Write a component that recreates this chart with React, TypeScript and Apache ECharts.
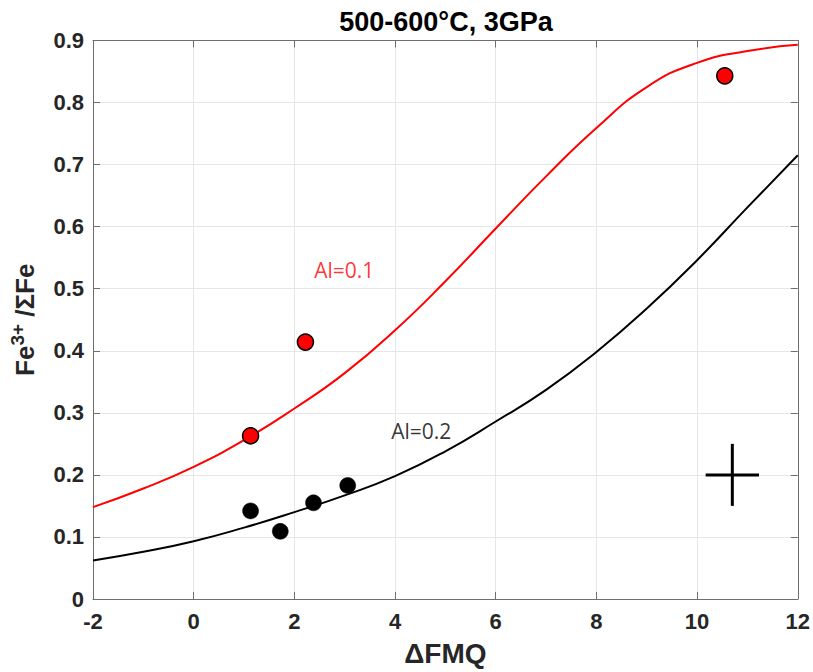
import React, { useEffect, useRef } from "react";
import * as echarts from "echarts";

const redCurveX = [-2, -1, 0, 1, 2, 3, 4, 5, 6, 7, 8, 9, 10, 11, 12];
const redCurveY = [0.148, 0.178, 0.213, 0.256, 0.307, 0.364, 0.433, 0.512, 0.597, 0.681, 0.759, 0.825, 0.864, 0.883, 0.893];
const blackCurveX = [-2, -1, 0, 1, 2, 3, 4, 5, 6, 7, 8, 9, 10, 11, 12];
const blackCurveY = [0.062, 0.076, 0.093, 0.115, 0.14, 0.167, 0.198, 0.238, 0.286, 0.337, 0.398, 0.468, 0.546, 0.631, 0.715];
const redPointsX = [1.13, 2.22, 10.55];
const redPointsY = [0.263, 0.414, 0.843];
const blackPointsX = [1.13, 1.72, 2.38, 3.06];
const blackPointsY = [0.142, 0.109, 0.155, 0.183];
const errCenter = [10.7, 0.2];
const errX = 0.53;
const errY = 0.05;
const labelAl1 = { text: "Al=0.1", x: 2.99, y: 0.53 };
const labelAl2 = { text: "Al=0.2", x: 4.52, y: 0.271 };

const FONT = "'Liberation Sans', Arial, sans-serif";
const AXC = "#6e6e6e";
const TXT = "#262626";

export default function App() {
  const ref = useRef<HTMLDivElement>(null);
  useEffect(() => {
    if (!ref.current) return;
    const chart = echarts.init(ref.current, null, { renderer: "svg" });
    const zip = (xs: number[], ys: number[]) => xs.map((x, i) => [x, ys[i]]);
    const baseX = { type: "value" as const, min: -2, max: 12, interval: 2 };
    const baseY = { type: "value" as const, min: 0, max: 0.9, interval: 0.1 };
    const tick = { show: true, inside: true, length: 7, lineStyle: { color: AXC, width: 1 } };
    chart.setOption({
      animation: false,
      backgroundColor: "#ffffff",
      title: {
        text: "500-600°C, 3GPa",
        left: 441,
        top: 3,
        textAlign: "center",
        textStyle: { fontFamily: FONT, fontWeight: "bold", fontSize: 27, color: "#000" },
      },
      grid: { left: 91, right: 15, top: 40.5, bottom: 71.5 },
      xAxis: [
        {
          ...baseX,
          name: "ΔFMQ",
          nameLocation: "middle",
          nameGap: 40,
          nameTextStyle: { fontFamily: FONT, fontWeight: "bold", fontSize: 28, color: TXT },
          axisLine: { show: true, onZero: false, lineStyle: { color: AXC, width: 1 } },
          axisTick: tick,
          axisLabel: {
            margin: 11,
            fontFamily: FONT,
            fontWeight: "bold",
            fontSize: 22,
            color: TXT,
            formatter: (v: number) => String(v),
          },
          splitLine: { show: true, lineStyle: { color: "#e6e6e6", width: 1 } },
        },
        {
          ...baseX,
          position: "top",
          axisLine: { show: true, onZero: false, lineStyle: { color: AXC, width: 1 } },
          axisTick: tick,
          axisLabel: { show: false },
          splitLine: { show: false },
        },
      ],
      yAxis: [
        {
          ...baseY,
          name: "{b|Fe}{s|3+}{b| /ΣFe}",
          nameLocation: "middle",
          nameGap: 52,
          nameTextStyle: {
            rich: {
              b: { fontFamily: FONT, fontWeight: "bold", fontSize: 26, color: TXT },
              s: { fontFamily: FONT, fontWeight: "bold", fontSize: 19, color: TXT, padding: [0, 0, 14, 0] },
            },
          },
          axisLine: { show: true, onZero: false, lineStyle: { color: AXC, width: 1 } },
          axisTick: tick,
          axisLabel: {
            margin: 9,
            fontFamily: FONT,
            fontWeight: "bold",
            fontSize: 22,
            color: TXT,
            formatter: (v: number) => (v === 0 ? "0" : v.toFixed(1)),
          },
          splitLine: { show: true, lineStyle: { color: "#e6e6e6", width: 1 } },
        },
        {
          ...baseY,
          position: "right",
          axisLine: { show: true, onZero: false, lineStyle: { color: AXC, width: 1 } },
          axisTick: tick,
          axisLabel: { show: false },
          splitLine: { show: false },
        },
      ],
      series: [
        {
          type: "line",
          data: zip(redCurveX, redCurveY),
          smooth: 0.5,
          showSymbol: false,
          lineStyle: { color: "#ff0000", width: 2 },
          z: 2,
        },
        {
          type: "line",
          data: zip(blackCurveX, blackCurveY),
          smooth: 0.5,
          showSymbol: false,
          lineStyle: { color: "#000000", width: 2 },
          z: 2,
        },
        {
          type: "line",
          data: [
            [errCenter[0] - errX, errCenter[1]],
            [errCenter[0] + errX, errCenter[1]],
          ],
          showSymbol: false,
          lineStyle: { color: "#000", width: 3 },
          z: 2,
        },
        {
          type: "line",
          data: [
            [errCenter[0], errCenter[1] - errY],
            [errCenter[0], errCenter[1] + errY],
          ],
          showSymbol: false,
          lineStyle: { color: "#000", width: 3 },
          z: 2,
        },
        {
          type: "scatter",
          data: zip(redPointsX, redPointsY),
          symbol: "circle",
          symbolSize: 16,
          itemStyle: { color: "#ff0000", borderColor: "#000", borderWidth: 1.5, opacity: 1 },
          z: 5,
        },
        {
          type: "scatter",
          data: zip(blackPointsX, blackPointsY),
          symbol: "circle",
          symbolSize: 16,
          itemStyle: { color: "#000", borderColor: "#000", borderWidth: 0.5, opacity: 1 },
          z: 5,
        },
        {
          type: "scatter",
          data: [
            { value: [labelAl1.x, labelAl1.y], name: labelAl1.text, label: { color: "#ff0000" } },
            { value: [labelAl2.x, labelAl2.y], name: labelAl2.text, label: { color: "#000000" } },
          ],
          symbol: "rect",
          symbolSize: 1,
          itemStyle: { color: "rgba(0,0,0,0)" },
          label: {
            show: true,
            position: "inside",
            formatter: (p: any) => p.name,
            fontFamily: "'Open Sans', 'Noto Sans', sans-serif",
            fontSize: 21,
          },
          z: 6,
        },
      ],
    });
    return () => chart.dispose();
  }, []);
  return (
    <div
      ref={ref}
      style={{ position: "fixed", left: 0, top: 0, width: 813, height: 672 }}
    />
  );
}
